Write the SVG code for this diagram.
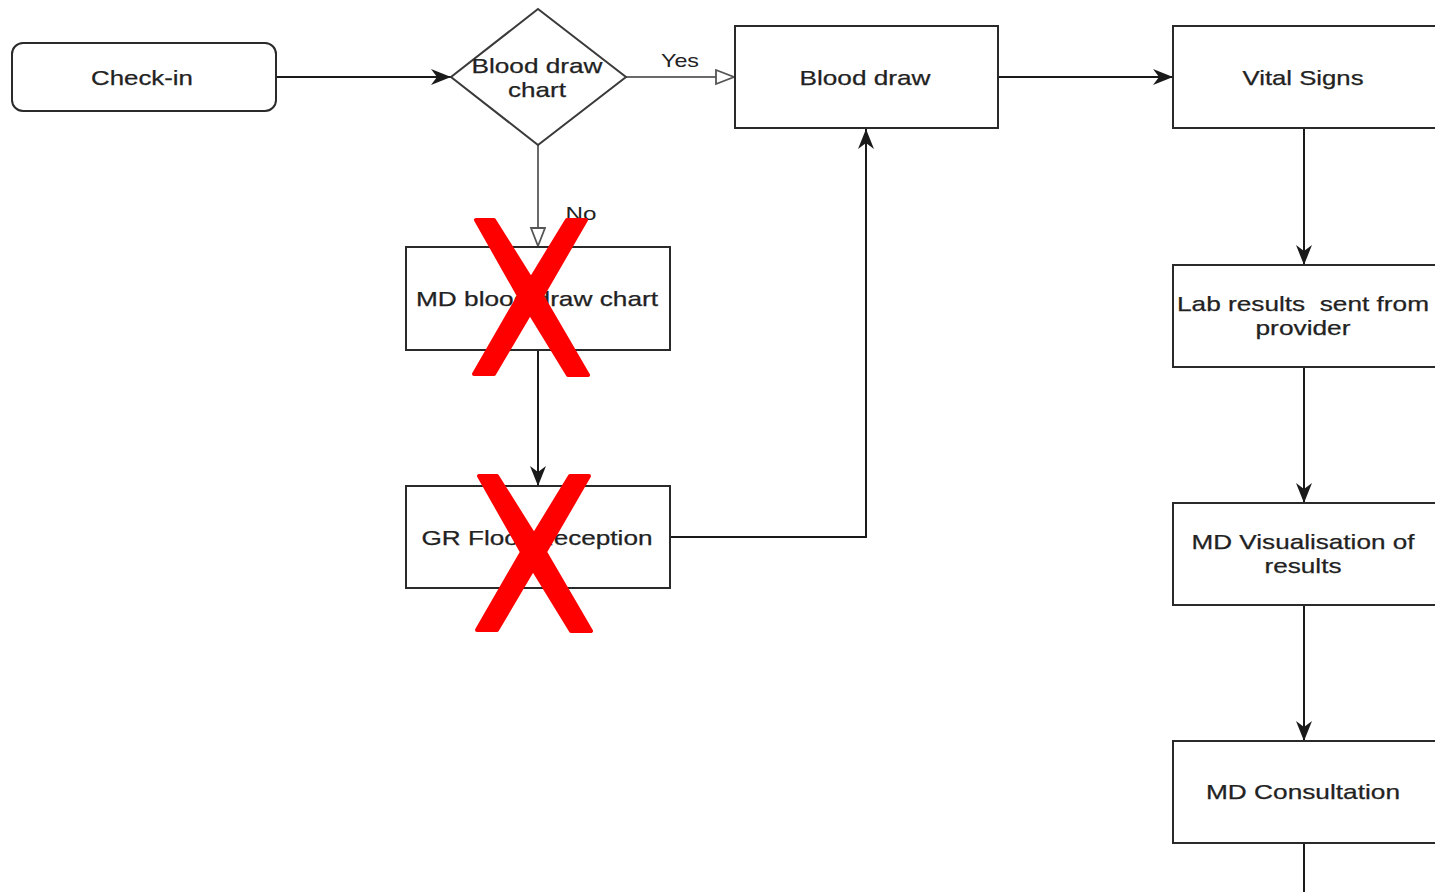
<svg xmlns="http://www.w3.org/2000/svg" width="1435" height="892" viewBox="0 0 1435 892">
  <style>
    .box { fill: #ffffff; stroke: #2a2a2a; stroke-width: 2; }
    .dia { fill: #ffffff; stroke: #3a3a3a; stroke-width: 2; }
    .lbl { font-family: "Liberation Sans", Arial, Helvetica, sans-serif; font-size: 21px; fill: #222222; text-anchor: middle; stroke: #222222; stroke-width: 0.25; }
    .edge { fill: none; stroke: #1a1a1a; stroke-width: 2; }
    .edge-alt { fill: none; stroke: #6a6a6a; stroke-width: 2; }
    .elbl { font-family: "Liberation Sans", Arial, Helvetica, sans-serif; font-size: 19px; fill: #222222; text-anchor: middle; }
    .cross { fill: #ff0000; stroke: #ff0000; stroke-width: 4; stroke-linejoin: round; }
  </style>
  <defs>
    <marker id="arrow" markerUnits="userSpaceOnUse" markerWidth="22" markerHeight="18" refX="20" refY="8" orient="auto">
      <path d="M0,0 L20,8 L0,16 L6,8 Z" fill="#1a1a1a"/>
    </marker>
    <marker id="open" markerUnits="userSpaceOnUse" markerWidth="22" markerHeight="18" refX="19" refY="8" orient="auto">
      <path d="M1,1 L19,8 L1,15 Z" fill="#ffffff" stroke="#555555" stroke-width="1.8"/>
    </marker>
    <!-- red strike-through mark -->
    <polygon id="x-mark" points="476,220 494,220 531,279 567,220 586,220 542,296 588,375 568,375 530,313 494,374 474,374 519,296"/>
  </defs>

  <rect width="1435" height="892" fill="#ffffff"/>

  <!-- connectors -->
  <g id="connectors">
    <line class="edge" x1="276" y1="77" x2="451" y2="77" marker-end="url(#arrow)"/>
    <line class="edge-alt" x1="626" y1="77" x2="734" y2="77" marker-end="url(#open)"/>
    <text class="elbl" x="680" y="67" textLength="38" lengthAdjust="spacingAndGlyphs">Yes</text>
    <line class="edge-alt" x1="538" y1="145" x2="538" y2="246" marker-end="url(#open)"/>
    <text class="elbl" x="581" y="220" textLength="31" lengthAdjust="spacingAndGlyphs">No</text>
    <line class="edge" x1="538" y1="350" x2="538" y2="486" marker-end="url(#arrow)"/>
    <polyline class="edge" points="670,537 866,537 866,129" marker-end="url(#arrow)"/>
    <line class="edge" x1="998" y1="77" x2="1173" y2="77" marker-end="url(#arrow)"/>
    <line class="edge" x1="1304" y1="128" x2="1304" y2="265" marker-end="url(#arrow)"/>
    <line class="edge" x1="1304" y1="367" x2="1304" y2="503" marker-end="url(#arrow)"/>
    <line class="edge" x1="1304" y1="605" x2="1304" y2="741" marker-end="url(#arrow)"/>
    <line class="edge" x1="1304" y1="843" x2="1304" y2="900"/>
  </g>

  <!-- nodes -->
  <g id="checkin">
    <rect class="box" x="12" y="43" width="264" height="68" rx="11"/>
    <text class="lbl" x="142" y="85" textLength="102" lengthAdjust="spacingAndGlyphs">Check-in</text>
  </g>

  <g id="decision">
    <polygon class="dia" points="538,9 626,77 538,145 451,77"/>
    <text class="lbl" x="537" y="73" textLength="131" lengthAdjust="spacingAndGlyphs">Blood draw</text>
    <text class="lbl" x="537" y="97" textLength="58" lengthAdjust="spacingAndGlyphs">chart</text>
  </g>

  <g id="blood-draw">
    <rect class="box" x="735" y="26" width="263" height="102"/>
    <text class="lbl" x="865" y="85" textLength="131" lengthAdjust="spacingAndGlyphs">Blood draw</text>
  </g>

  <g id="vital-signs">
    <rect class="box" x="1173" y="26" width="270" height="102"/>
    <text class="lbl" x="1303" y="85" textLength="121" lengthAdjust="spacingAndGlyphs">Vital Signs</text>
  </g>

  <g id="lab-results">
    <rect class="box" x="1173" y="265" width="270" height="102"/>
    <text class="lbl" x="1303" y="311" textLength="252" lengthAdjust="spacingAndGlyphs" xml:space="preserve">Lab results  sent from</text>
    <text class="lbl" x="1303" y="335" textLength="95" lengthAdjust="spacingAndGlyphs">provider</text>
  </g>

  <g id="md-visualisation">
    <rect class="box" x="1173" y="503" width="270" height="102"/>
    <text class="lbl" x="1303" y="549" textLength="223" lengthAdjust="spacingAndGlyphs">MD Visualisation of</text>
    <text class="lbl" x="1303" y="573" textLength="77" lengthAdjust="spacingAndGlyphs">results</text>
  </g>

  <g id="md-consultation">
    <rect class="box" x="1173" y="741" width="270" height="102"/>
    <text class="lbl" x="1303" y="799" textLength="194" lengthAdjust="spacingAndGlyphs">MD Consultation</text>
  </g>

  <g id="md-blood-draw-chart">
    <rect class="box" x="406" y="247" width="264" height="103"/>
    <text class="lbl" x="537" y="306" textLength="242" lengthAdjust="spacingAndGlyphs">MD blood draw chart</text>
  </g>

  <g id="gr-floor-reception">
    <rect class="box" x="406" y="486" width="264" height="102"/>
    <text class="lbl" x="537" y="545" textLength="231" lengthAdjust="spacingAndGlyphs">GR Floor Reception</text>
  </g>

  <!-- strike-through marks over the removed steps -->
  <g id="cross-1" class="cross">
    <use href="#x-mark"/>
  </g>
  <g id="cross-2" class="cross">
    <use href="#x-mark" transform="translate(3,256)"/>
  </g>
</svg>
